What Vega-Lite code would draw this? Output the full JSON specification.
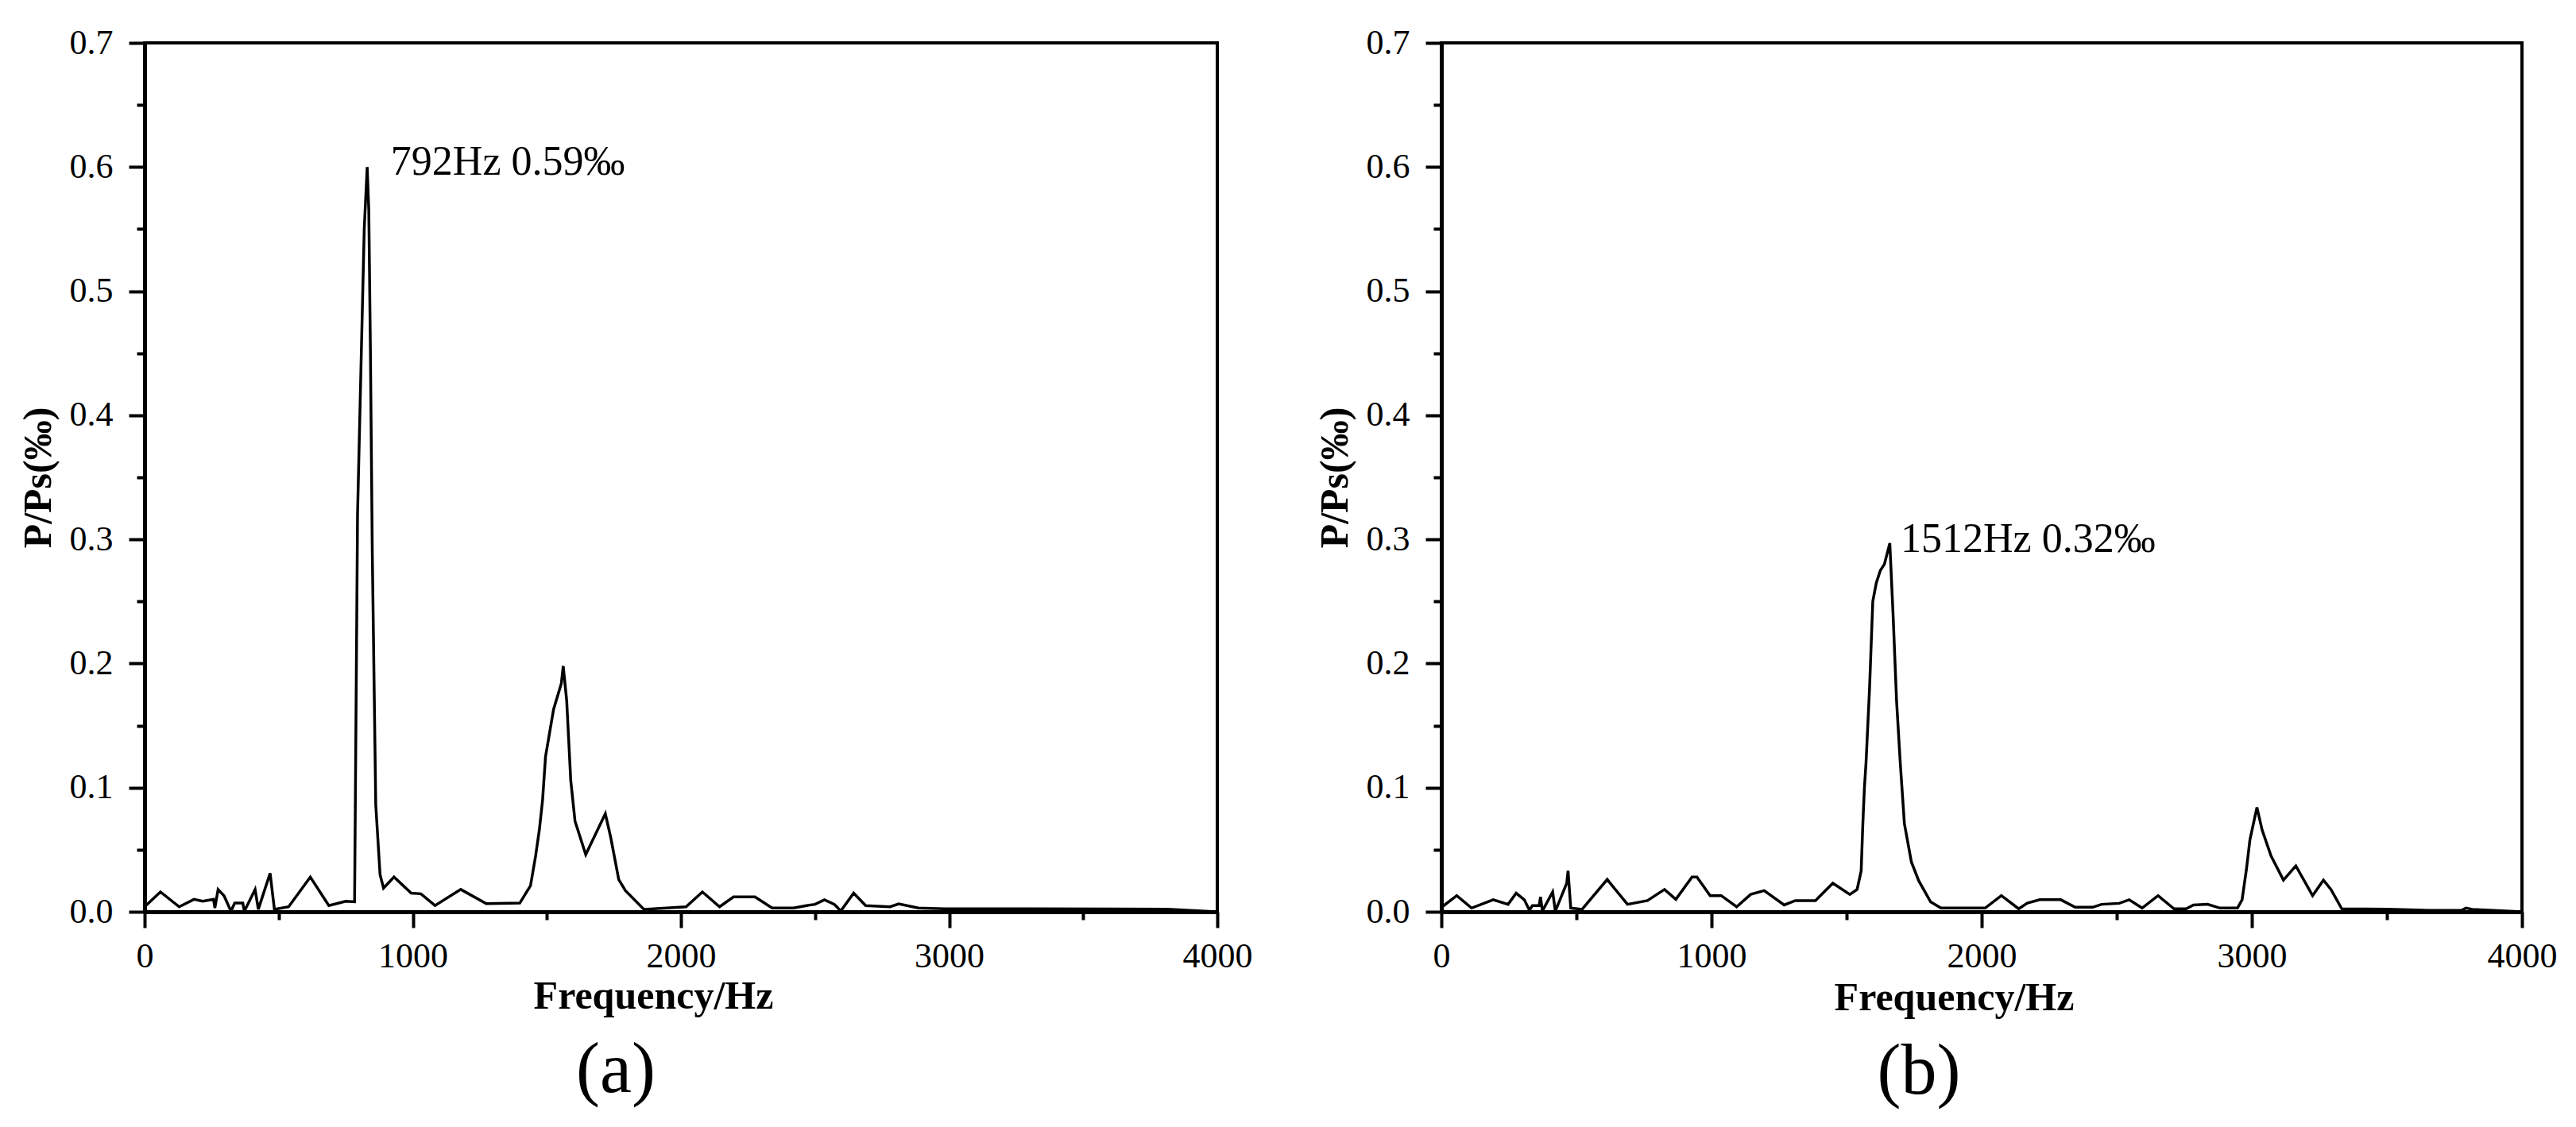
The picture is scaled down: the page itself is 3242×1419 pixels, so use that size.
{
  "$schema": "https://vega.github.io/schema/vega-lite/v6.json",
  "background": "white",
  "padding": {"left": 21, "top": 30, "right": 10, "bottom": 10},
  "bounds": "flush",
  "spacing": 282,
  "datasets": {
    "a": [
      {"f": 0, "p": 0.004}, {"f": 59, "p": 0.016}, {"f": 129, "p": 0.004}, {"f": 184, "p": 0.010},
      {"f": 217, "p": 0.0085}, {"f": 257, "p": 0.010}, {"f": 262, "p": 0.003}, {"f": 274, "p": 0.018},
      {"f": 296, "p": 0.013}, {"f": 322, "p": 0.0005}, {"f": 336, "p": 0.007}, {"f": 366, "p": 0.007},
      {"f": 372, "p": 0.0005}, {"f": 412, "p": 0.018}, {"f": 424, "p": 0.002}, {"f": 468, "p": 0.031},
      {"f": 484, "p": 0.002}, {"f": 537, "p": 0.004}, {"f": 618, "p": 0.028}, {"f": 687, "p": 0.005},
      {"f": 750, "p": 0.0085}, {"f": 783, "p": 0.008}, {"f": 794, "p": 0.32}, {"f": 807, "p": 0.44},
      {"f": 819, "p": 0.55}, {"f": 830, "p": 0.60}, {"f": 836, "p": 0.565}, {"f": 842, "p": 0.453},
      {"f": 849, "p": 0.29}, {"f": 862, "p": 0.086}, {"f": 878, "p": 0.03}, {"f": 891, "p": 0.019},
      {"f": 930, "p": 0.028}, {"f": 994, "p": 0.015}, {"f": 1030, "p": 0.0145}, {"f": 1083, "p": 0.005},
      {"f": 1179, "p": 0.018}, {"f": 1274, "p": 0.0065}, {"f": 1399, "p": 0.007}, {"f": 1439, "p": 0.021},
      {"f": 1458, "p": 0.045}, {"f": 1472, "p": 0.066}, {"f": 1484, "p": 0.09}, {"f": 1495, "p": 0.125},
      {"f": 1525, "p": 0.163}, {"f": 1554, "p": 0.184}, {"f": 1561, "p": 0.198}, {"f": 1574, "p": 0.17},
      {"f": 1589, "p": 0.106}, {"f": 1605, "p": 0.073}, {"f": 1645, "p": 0.046}, {"f": 1718, "p": 0.079},
      {"f": 1738, "p": 0.06}, {"f": 1768, "p": 0.026}, {"f": 1793, "p": 0.017}, {"f": 1862, "p": 0.002},
      {"f": 2019, "p": 0.004}, {"f": 2080, "p": 0.016}, {"f": 2144, "p": 0.004}, {"f": 2196, "p": 0.012},
      {"f": 2276, "p": 0.012}, {"f": 2340, "p": 0.003}, {"f": 2420, "p": 0.003}, {"f": 2468, "p": 0.005},
      {"f": 2500, "p": 0.006}, {"f": 2535, "p": 0.0096}, {"f": 2572, "p": 0.006}, {"f": 2596, "p": 0.0006},
      {"f": 2644, "p": 0.015}, {"f": 2689, "p": 0.005}, {"f": 2780, "p": 0.004}, {"f": 2812, "p": 0.0064},
      {"f": 2885, "p": 0.003}, {"f": 2981, "p": 0.0024}, {"f": 3301, "p": 0.0024}, {"f": 3622, "p": 0.0022},
      {"f": 3814, "p": 0.002}, {"f": 4000, "p": 0.0}
    ],
    "b": [
      {"f": 3, "p": 0.004}, {"f": 57, "p": 0.013}, {"f": 112, "p": 0.003}, {"f": 192, "p": 0.0097},
      {"f": 247, "p": 0.006}, {"f": 277, "p": 0.015}, {"f": 307, "p": 0.0097}, {"f": 326, "p": 0.0013},
      {"f": 337, "p": 0.005}, {"f": 362, "p": 0.005}, {"f": 367, "p": 0.012}, {"f": 374, "p": 0.0006},
      {"f": 412, "p": 0.016}, {"f": 422, "p": 0.0006}, {"f": 464, "p": 0.023}, {"f": 469, "p": 0.033},
      {"f": 479, "p": 0.003}, {"f": 521, "p": 0.002}, {"f": 614, "p": 0.026}, {"f": 689, "p": 0.006},
      {"f": 763, "p": 0.009}, {"f": 826, "p": 0.018}, {"f": 868, "p": 0.010}, {"f": 928, "p": 0.028},
      {"f": 946, "p": 0.028}, {"f": 995, "p": 0.013}, {"f": 1036, "p": 0.013}, {"f": 1093, "p": 0.004},
      {"f": 1145, "p": 0.014}, {"f": 1195, "p": 0.017}, {"f": 1269, "p": 0.0055}, {"f": 1310, "p": 0.009},
      {"f": 1385, "p": 0.009}, {"f": 1449, "p": 0.023}, {"f": 1512, "p": 0.014}, {"f": 1539, "p": 0.018},
      {"f": 1554, "p": 0.033}, {"f": 1560, "p": 0.07}, {"f": 1566, "p": 0.10}, {"f": 1572, "p": 0.12},
      {"f": 1585, "p": 0.18}, {"f": 1597, "p": 0.25}, {"f": 1610, "p": 0.265}, {"f": 1625, "p": 0.275},
      {"f": 1640, "p": 0.28}, {"f": 1660, "p": 0.297}, {"f": 1672, "p": 0.24}, {"f": 1685, "p": 0.17},
      {"f": 1699, "p": 0.119}, {"f": 1714, "p": 0.071}, {"f": 1740, "p": 0.04}, {"f": 1767, "p": 0.025},
      {"f": 1811, "p": 0.008}, {"f": 1849, "p": 0.003}, {"f": 2013, "p": 0.003}, {"f": 2073, "p": 0.013},
      {"f": 2137, "p": 0.0024}, {"f": 2169, "p": 0.007}, {"f": 2215, "p": 0.0097}, {"f": 2293, "p": 0.0097},
      {"f": 2346, "p": 0.0036}, {"f": 2411, "p": 0.0036}, {"f": 2444, "p": 0.006}, {"f": 2509, "p": 0.0068},
      {"f": 2546, "p": 0.0097}, {"f": 2594, "p": 0.003}, {"f": 2653, "p": 0.013}, {"f": 2712, "p": 0.0024},
      {"f": 2757, "p": 0.0024}, {"f": 2784, "p": 0.0054}, {"f": 2836, "p": 0.006}, {"f": 2882, "p": 0.003},
      {"f": 2947, "p": 0.003}, {"f": 2964, "p": 0.0097}, {"f": 2980, "p": 0.034}, {"f": 2993, "p": 0.058},
      {"f": 3019, "p": 0.084}, {"f": 3038, "p": 0.066}, {"f": 3071, "p": 0.045}, {"f": 3117, "p": 0.0255},
      {"f": 3163, "p": 0.037}, {"f": 3225, "p": 0.013}, {"f": 3265, "p": 0.0255}, {"f": 3293, "p": 0.018},
      {"f": 3333, "p": 0.0024}, {"f": 3502, "p": 0.002}, {"f": 3659, "p": 0.0012}, {"f": 3777, "p": 0.0012},
      {"f": 3793, "p": 0.003}, {"f": 3816, "p": 0.002}, {"f": 4000, "p": 0.0}
    ],
    "annA": [{"f": 918, "p": 0.594, "label": "792Hz 0.59‰"}],
    "annB": [{"f": 1700, "p": 0.29, "label": "1512Hz 0.32‰"}]
  },
  "hconcat": [
    {
      "width": 1350,
      "height": 1094,
      "title": {"text": "(a)", "orient": "bottom", "anchor": "middle", "dx": -82, "offset": 25, "font": "Liberation Serif", "fontSize": 90, "fontWeight": "normal", "color": "black"},
      "layer": [
        {
          "data": {"name": "a"},
          "mark": {"type": "line", "color": "black", "strokeWidth": 3.5, "clip": true},
          "encoding": {
            "x": {"field": "f", "type": "quantitative", "scale": {"domain": [0, 4000], "nice": false, "zero": false},
              "axis": {"title": "Frequency/Hz", "values": [0, 500, 1000, 1500, 2000, 2500, 3000, 3500, 4000],
                "tickSize": {"condition": {"test": "datum.value % 1000 == 0", "value": 20}, "value": 10},
                "labelExpr": "datum.value % 1000 == 0 ? format(datum.value, 'd') : ''",
                "labelFont": "Liberation Serif", "labelFontSize": 44,
                "labelPadding": 14, "labelFlush": false, "labelOverlap": false,
                "titleX": 640, "titleY": 121, "titleAlign": "center", "titleBaseline": "alphabetic"}},
            "y": {"field": "p", "type": "quantitative", "scale": {"domain": [0, 0.7], "nice": false},
              "axis": {"title": "P/Ps(‰)", "values": [0, 0.05, 0.1, 0.15, 0.2, 0.25, 0.3, 0.35, 0.4, 0.45, 0.5, 0.55, 0.6, 0.65, 0.7],
                "tickSize": {"condition": {"test": "round(datum.value*100) % 10 == 0", "value": 20}, "value": 10},
                "labelExpr": "round(datum.value*100) % 10 == 0 ? format(datum.value, '.1f') : ''",
                "labelFont": "Liberation Serif", "labelFontSize": 44,
                "labelPadding": 20, "labelOverlap": false, "labelFlush": false,
                "titleX": -134, "titleY": 547, "titleAngle": -90, "titleAlign": "center", "titleBaseline": "middle"}}
          }
        },
        {
          "data": {"name": "annA"},
          "mark": {"type": "text", "align": "left", "baseline": "alphabetic", "font": "Liberation Serif", "fontSize": 52, "color": "black"},
          "encoding": {
            "x": {"field": "f", "type": "quantitative"},
            "y": {"field": "p", "type": "quantitative"},
            "text": {"field": "label"}
          }
        }
      ]
    },
    {
      "width": 1360,
      "height": 1094,
      "title": {"text": "(b)", "orient": "bottom", "anchor": "middle", "dx": -79, "offset": 25, "font": "Liberation Serif", "fontSize": 90, "fontWeight": "normal", "color": "black"},
      "layer": [
        {
          "data": {"name": "b"},
          "mark": {"type": "line", "color": "black", "strokeWidth": 3.5, "clip": true},
          "encoding": {
            "x": {"field": "f", "type": "quantitative", "scale": {"domain": [0, 4000], "nice": false, "zero": false},
              "axis": {"title": "Frequency/Hz", "values": [0, 500, 1000, 1500, 2000, 2500, 3000, 3500, 4000],
                "tickSize": {"condition": {"test": "datum.value % 1000 == 0", "value": 20}, "value": 10},
                "labelExpr": "datum.value % 1000 == 0 ? format(datum.value, 'd') : ''",
                "labelFont": "Liberation Serif", "labelFontSize": 44,
                "labelPadding": 14, "labelFlush": false, "labelOverlap": false,
                "titleX": 645, "titleY": 123, "titleAlign": "center", "titleBaseline": "alphabetic"}},
            "y": {"field": "p", "type": "quantitative", "scale": {"domain": [0, 0.7], "nice": false},
              "axis": {"title": "P/Ps(‰)", "values": [0, 0.05, 0.1, 0.15, 0.2, 0.25, 0.3, 0.35, 0.4, 0.45, 0.5, 0.55, 0.6, 0.65, 0.7],
                "tickSize": {"condition": {"test": "round(datum.value*100) % 10 == 0", "value": 20}, "value": 10},
                "labelExpr": "round(datum.value*100) % 10 == 0 ? format(datum.value, '.1f') : ''",
                "labelFont": "Liberation Serif", "labelFontSize": 44,
                "labelPadding": 20, "labelOverlap": false, "labelFlush": false,
                "titleX": -134, "titleY": 547, "titleAngle": -90, "titleAlign": "center", "titleBaseline": "middle"}}
          }
        },
        {
          "data": {"name": "annB"},
          "mark": {"type": "text", "align": "left", "baseline": "alphabetic", "font": "Liberation Serif", "fontSize": 52, "color": "black"},
          "encoding": {
            "x": {"field": "f", "type": "quantitative"},
            "y": {"field": "p", "type": "quantitative"},
            "text": {"field": "label"}
          }
        }
      ]
    }
  ],
  "config": {
    "view": {"stroke": "black", "strokeWidth": 4},
    "axis": {
      "grid": false,
      "domainColor": "black", "domainWidth": 5,
      "tickColor": "black", "tickWidth": 4,
      "labelFont": "Liberation Serif", "labelFontSize": 44, "labelColor": "black",
      "titleFont": "Liberation Serif", "titleFontSize": 50, "titleFontWeight": "bold", "titleColor": "black"
    }
  }
}
